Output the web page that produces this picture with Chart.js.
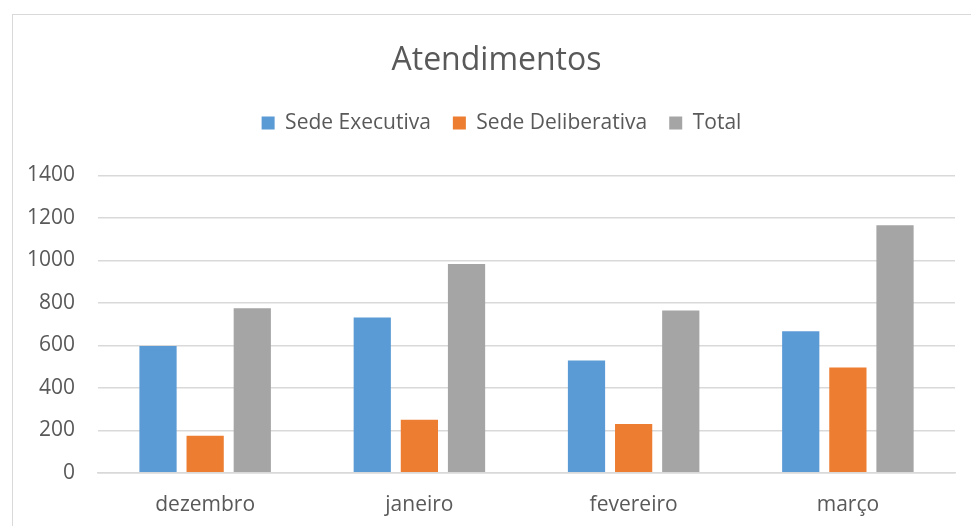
<!DOCTYPE html>
<html>
<head>
<meta charset="utf-8">
<script src="https://cdn.jsdelivr.net/npm/chart.js"></script>
<style>
  html, body { margin: 0; padding: 0; background: #fff; }
  #frame {
    position: absolute; left: 12px; top: 14px; width: 1000px; height: 600px;
    border: 1px solid #d9d9d9; box-sizing: border-box;
  }
  #wrap { position: absolute; left: 0; top: 0; width: 971px; height: 526px; }
</style>
</head>
<body>
<div id="frame"></div>
<div id="wrap"><canvas id="atendChart"></canvas></div>
<script>
const meses = ["dezembro", "janeiro", "fevereiro", "março"];
const sedeExecutiva = [597, 731, 529, 666];
const sedeDeliberativa = [175, 250, 230, 496];
const total = [775, 983, 764, 1165];
const yTicks = [0, 200, 400, 600, 800, 1000, 1200, 1400];

// extra room under the legend, like the original
const legendGap = {
  id: "legendGap",
  beforeInit(chart) {
    const fit = chart.legend.fit;
    chart.legend.fit = function () {
      fit.bind(chart.legend)();
      this.height += 32;
    };
  },
  // original chart is a bit wider than the window, so title/legend sit right of center
  afterLayout(chart) {
    chart.titleBlock.left += 17;
    chart.titleBlock.right += 17;
    chart.legend.left += 22;
    chart.legend.right += 22;
  }
};

document.addEventListener("DOMContentLoaded", () => {
  const ctx = document.getElementById("atendChart").getContext("2d");
  const txt = "#595959";
  const fam = "'Open Sans', sans-serif";

  const bar = (label, data, color) => ({
    label: label,
    data: data,
    backgroundColor: color,
    borderWidth: 0,
    barPercentage: 0.79,
    categoryPercentage: 0.66
  });

  new Chart(ctx, {
    type: "bar",
    data: {
      labels: meses,
      datasets: [
        bar("Sede Executiva", sedeExecutiva, "#5b9bd5"),
        bar("Sede Deliberativa", sedeDeliberativa, "#ed7d31"),
        bar("Total", total, "#a5a5a5")
      ]
    },
    plugins: [legendGap],
    options: {
      responsive: true,
      maintainAspectRatio: false,
      animation: false,
      layout: { padding: { left: 4, right: 16, top: 0, bottom: -4 } },
      plugins: {
        title: {
          display: true,
          text: "Atendimentos",
          color: txt,
          font: { family: fam, size: 32, weight: "normal" },
          padding: { top: 42, bottom: 10 }
        },
        legend: {
          position: "top",
          labels: {
            color: txt,
            font: { family: fam, size: 21 },
            boxWidth: 13,
            boxHeight: 13,
            padding: 22
          }
        },
        tooltip: { enabled: false }
      },
      scales: {
        x: {
          grid: { display: false },
          border: { color: "#d9d9d9", width: 1.5 },
          ticks: { color: txt, font: { family: fam, size: 21 }, padding: 12 }
        },
        y: {
          min: 0,
          max: 1400,
          afterBuildTicks: (axis) => { axis.ticks = yTicks.map(v => ({ value: v })); },
          grid: { color: "#d9d9d9", lineWidth: 1.5, drawTicks: false },
          border: { display: false },
          ticks: {
            color: txt,
            font: { family: fam, size: 21 },
            padding: 23,
            callback: (v) => String(v)
          }
        }
      }
    }
  });
});
</script>
</body>
</html>
